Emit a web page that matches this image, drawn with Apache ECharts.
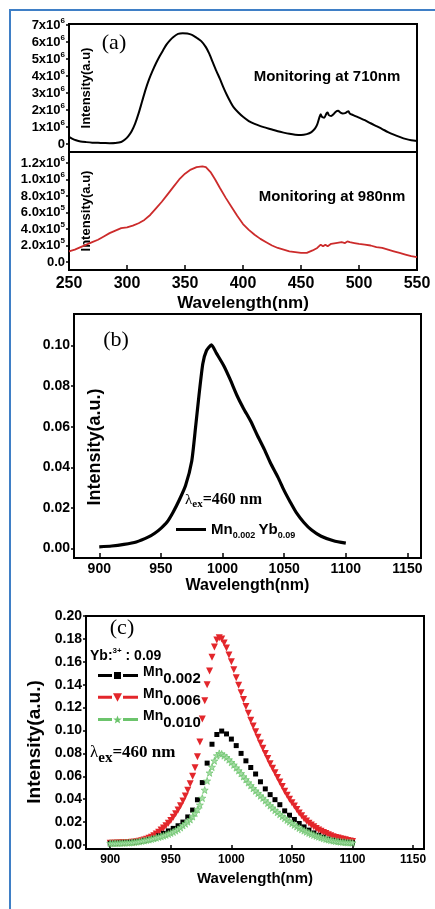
<!DOCTYPE html>
<html><head><meta charset="utf-8">
<script src="https://cdn.jsdelivr.net/npm/echarts@6/dist/echarts.min.js"></script>
<style>html,body{margin:0;padding:0;background:#fff}#c{width:435px;height:909px}</style>
</head><body><div id="c"></div>
<script>
// ---------- Panel (a), intensities in units of 10^6 ----------
const wave710 = [250,253,256,260,265,270,275,280,285,290,295,298,301,304,307,310,313,316,319,322,325,328,331,334,337,340,344,348,352,356,360,364,368,371,374,377,380,383,386,389,392,396,400,405,410,415,420,425,430,435,440,445,450,455,459,462,464,466,467,468,470,472,473,474,476,478,480,482,484,486,488,490,491,492,495,500,505,510,515,520,525,530,535,540,545,550];
const int710  = [0.42,0.30,0.22,0.15,0.11,0.08,0.07,0.06,0.05,0.06,0.12,0.25,0.45,0.75,1.2,1.8,2.5,3.2,3.8,4.3,4.75,5.15,5.5,5.85,6.1,6.3,6.48,6.52,6.5,6.42,6.25,6.05,5.7,5.3,4.8,4.3,3.85,3.35,2.9,2.5,2.15,1.85,1.6,1.35,1.18,1.05,0.95,0.85,0.75,0.67,0.6,0.55,0.53,0.58,0.7,0.9,1.15,1.6,1.75,1.6,1.55,1.8,1.85,1.7,1.65,1.75,1.9,1.95,1.85,1.8,1.82,1.9,1.92,1.8,1.7,1.55,1.4,1.22,1.05,0.88,0.7,0.55,0.42,0.3,0.22,0.18];
const wave980 = [250,255,260,265,270,275,280,285,290,295,300,305,310,315,320,325,330,335,340,345,350,355,360,365,368,372,376,380,385,390,395,400,405,410,415,420,425,430,435,440,445,450,455,460,464,467,469,471,473,476,480,485,488,490,492,496,500,505,510,515,520,525,530,535,540,545,550];
const int980  = [0.13,0.15,0.18,0.21,0.24,0.27,0.31,0.35,0.38,0.41,0.42,0.44,0.47,0.51,0.57,0.65,0.73,0.82,0.91,1.0,1.07,1.12,1.15,1.16,1.15,1.09,1.0,0.9,0.78,0.67,0.56,0.46,0.39,0.33,0.28,0.24,0.2,0.17,0.15,0.13,0.12,0.11,0.11,0.14,0.17,0.21,0.19,0.21,0.19,0.22,0.23,0.24,0.23,0.25,0.24,0.23,0.22,0.21,0.2,0.18,0.17,0.15,0.13,0.11,0.09,0.07,0.06];
const xTicksA = [250,300,350,400,450,500,550];
const yTicks710 = [0,1,2,3,4,5,6,7];
const yLabels710 = ['0','1x10^6','2x10^6','3x10^6','4x10^6','5x10^6','6x10^6','7x10^6'];
const yTicks980 = [0,0.2,0.4,0.6,0.8,1.0,1.2];
const yLabels980 = ['0.0','2.0x10^5','4.0x10^5','6.0x10^5','8.0x10^5','1.0x10^6','1.2x10^6'];

// ---------- Panel (b) ----------
const waveB = [900,910,920,930,940,945,950,955,960,965,970,975,978,981,984,987,991,995,1001,1006,1012,1017,1023,1028,1034,1039,1045,1050,1055,1060,1066,1072,1080,1090,1100];
const intB  = [0.0008,0.0012,0.002,0.0032,0.0057,0.0075,0.0099,0.013,0.018,0.024,0.031,0.043,0.059,0.076,0.091,0.0975,0.1003,0.0962,0.090,0.0835,0.075,0.069,0.0625,0.056,0.0487,0.042,0.035,0.0285,0.0228,0.0175,0.0128,0.0092,0.006,0.0038,0.0026];
const xTicksBC = [900,950,1000,1050,1100,1150];
const yTicksB = [0,0.02,0.04,0.06,0.08,0.10];

// ---------- Panel (c) ----------
const waveC2 = [900,902,904,906,908,910,912,914,916,918,
920,922,924,926,928,930,932,934,936,938,
940,942,944,946,948,950,952,954,956,958,
960,962,964,966,968,970,972,974,976,978,
980,982,984,986,988,990,992,994,996,998,
1000,1002,1004,1006,1008,1010,1012,1014,1016,1018,
1020,1022,1024,1026,1028,1030,1032,1034,1036,1038,
1040,1042,1044,1046,1048,1050,1052,1054,1056,1058,
1060,1062,1064,1066,1068,1070,1072,1074,1076,1078,
1080,1082,1084,1086,1088,1090,1092,1094,1096,1098,
1100];
const waveC4 = [900,904,908,912,916,920,924,928,932,936,
940,944,948,952,956,960,964,968,972,976,
980,984,988,992,996,1000,1004,1008,1012,1016,
1020,1024,1028,1032,1036,1040,1044,1048,1052,1056,
1060,1064,1068,1072,1076,1080,1084,1088,1092,1096,
1100];
const intMn006 = [0.0015,0.0015,0.0016,0.0017,0.0018,0.0019,0.0020,0.0021,0.0022,0.0023,
0.0025,0.0028,0.0032,0.0037,0.0043,0.0050,0.0058,0.0068,0.0080,0.0095,
0.0112,0.0130,0.0148,0.0168,0.0190,0.0215,0.0242,0.0272,0.0305,0.0342,
0.0385,0.0428,0.0478,0.0535,0.0600,0.0675,0.0770,0.0900,0.1100,0.1260,
0.1400,0.1520,0.1640,0.1730,0.1790,0.1810,0.1800,0.1765,0.1720,0.1660,
0.1600,0.1530,0.1460,0.1395,0.1330,0.1270,0.1210,0.1150,0.1090,0.1040,
0.0990,0.0940,0.0890,0.0845,0.0800,0.0755,0.0710,0.0670,0.0630,0.0590,
0.0550,0.0510,0.0470,0.0435,0.0400,0.0370,0.0340,0.0310,0.0280,0.0255,
0.0230,0.0210,0.0190,0.0175,0.0160,0.0145,0.0130,0.0120,0.0110,0.0100,
0.0090,0.0080,0.0072,0.0065,0.0060,0.0055,0.0050,0.0045,0.0040,0.0035,
0.0030];
const intMn010 = [0.0015,0.0015,0.0016,0.0016,0.0017,0.0018,0.0019,0.0020,0.0021,0.0023,
0.0025,0.0028,0.0031,0.0035,0.0039,0.0043,0.0047,0.0052,0.0057,0.0063,
0.0069,0.0075,0.0081,0.0088,0.0096,0.0105,0.0114,0.0125,0.0137,0.0152,
0.0170,0.0185,0.0203,0.0222,0.0248,0.0278,0.0310,0.0350,0.0410,0.0480,
0.0560,0.0630,0.0680,0.0735,0.0780,0.0800,0.0795,0.0780,0.0765,0.0745,
0.0722,0.0700,0.0675,0.0650,0.0625,0.0598,0.0572,0.0545,0.0520,0.0495,
0.0473,0.0452,0.0430,0.0410,0.0388,0.0366,0.0344,0.0324,0.0304,0.0286,
0.0268,0.0250,0.0234,0.0218,0.0203,0.0189,0.0175,0.0161,0.0148,0.0136,
0.0125,0.0115,0.0105,0.0096,0.0087,0.0079,0.0072,0.0065,0.0058,0.0052,
0.0047,0.0042,0.0038,0.0034,0.0031,0.0028,0.0026,0.0024,0.0022,0.0021,
0.0020];
const intMn002 = [0.0015,0.0016,0.0018,0.0020,0.0023,0.0026,0.0030,0.0038,0.0047,0.0058,
0.0080,0.0102,0.0123,0.0145,0.0168,0.0200,0.0245,0.0305,0.0395,0.0545,
0.0715,0.0880,0.0965,0.0995,0.0970,0.0925,0.0868,0.0800,0.0735,0.0677,
0.0620,0.0552,0.0490,0.0440,0.0396,0.0352,0.0298,0.0260,0.0223,0.0188,
0.0158,0.0130,0.0105,0.0085,0.0068,0.0050,0.0040,0.0032,0.0027,0.0023,
0.0020];
const yTicksC = [0,0.02,0.04,0.06,0.08,0.10,0.12,0.14,0.16,0.18,0.20];

// ---------- helpers ----------
const SANS = '"Liberation Sans", Arial, sans-serif';
const SERIF = '"Liberation Serif", "Times New Roman", serif';
const zip = (xs, ys) => xs.map((x, i) => [x, ys[i]]);
const sciRich = (s) => { const m = s.match(/^(.*)\^(.*)$/); return m ? '{m|' + m[1] + '}{s|' + m[2] + '}' : '{m|' + s + '}'; };
const lookup = (ticks, labels) => (v) => { const i = ticks.findIndex(t => Math.abs(t - v) < 1e-9); return i < 0 ? '' : sciRich(labels[i]); };
const plain = (v) => String(v);
const sciRichStyle = { m: { fontSize: 13, fontWeight: 'bold', fontFamily: SANS, color: '#000', lineHeight: 17 },
                       s: { fontSize: 8, fontWeight: 'bold', fontFamily: SANS, color: '#000', verticalAlign: 'top' } };
const blackLine = { color: '#000', width: 2 };
const starPath = 'path://M0,-10L2.35,-3.24L9.51,-3.09L3.8,1.24L5.88,8.09L0,4L-5.88,8.09L-3.8,1.24L-9.51,-3.09L-2.35,-3.24Z';

const grids = [
  { left: 69, top: 24, width: 348, height: 128 },
  { left: 69, top: 152, width: 348, height: 118 },
  { left: 74, top: 314, width: 347, height: 244 },
  { left: 86, top: 616, width: 338, height: 233 }
].map(g => Object.assign({ show: true, borderColor: '#000', borderWidth: 2, containLabel: false }, g));

function xAx(grid, min, max, ticks, opts) {
  return Object.assign({
    type: 'value', gridIndex: grid, min: min, max: max,
    axisLine: { show: true, onZero: false, lineStyle: blackLine },
    splitLine: { show: false },
    axisTick: { show: true, inside: true, length: 5, customValues: ticks, lineStyle: { color: '#000', width: 1.5 } },
    axisLabel: { show: true, customValues: ticks, color: '#000', fontFamily: SANS, fontWeight: 'bold', formatter: plain },
    nameLocation: 'middle'
  }, opts);
}
function yAx(grid, min, max, ticks, opts) {
  return Object.assign({
    type: 'value', gridIndex: grid, min: min, max: max,
    axisLine: { show: true, onZero: false, lineStyle: blackLine },
    splitLine: { show: false },
    axisTick: { show: true, inside: false, length: 3, customValues: ticks, lineStyle: { color: '#000', width: 1.5 } },
    axisLabel: { show: true, customValues: ticks, color: '#000', fontFamily: SANS, fontWeight: 'bold' },
    nameLocation: 'middle', nameRotate: 90
  }, opts);
}

const option = {
  animation: false,
  backgroundColor: '#fff',
  grid: grids,
  xAxis: [
    xAx(0, 250, 550, xTicksA, { axisTick: { show: false }, axisLabel: { show: false } }),
    xAx(1, 250, 550, xTicksA, {
      axisLabel: { customValues: xTicksA, fontSize: 16, margin: 6, color: '#000', fontFamily: SANS, fontWeight: 'bold', formatter: plain },
      name: 'Wavelength(nm)', nameGap: 25,
      nameTextStyle: { fontSize: 17, fontWeight: 'bold', fontFamily: SANS, color: '#000' }
    }),
    xAx(2, 879.5, 1161, xTicksBC, {
      axisLabel: { customValues: xTicksBC, fontSize: 14, margin: 4, color: '#000', fontFamily: SANS, fontWeight: 'bold', formatter: plain },
      name: 'Wavelength(nm)', nameGap: 20,
      nameTextStyle: { fontSize: 16, fontWeight: 'bold', fontFamily: SANS, color: '#000' }
    }),
    xAx(3, 880, 1159, xTicksBC, {
      axisTick: { show: true, inside: true, length: 4, customValues: xTicksBC, lineStyle: { color: '#000', width: 1.5 } },
      axisLabel: { customValues: xTicksBC, fontSize: 12, margin: 5, color: '#000', fontFamily: SANS, fontWeight: 'bold', formatter: plain },
      name: 'Wavelength(nm)', nameGap: 22,
      nameTextStyle: { fontSize: 15, fontWeight: 'bold', fontFamily: SANS, color: '#000' }
    })
  ],
  yAxis: [
    yAx(0, -0.4707, 7.06, yTicks710, {
      axisLabel: { customValues: yTicks710, margin: 4, formatter: lookup(yTicks710, yLabels710), rich: sciRichStyle },
      name: 'Intensity(a.u)', nameGap: -24,
      nameTextStyle: { fontSize: 13, fontWeight: 'bold', fontFamily: SANS, color: '#000' }
    }),
    yAx(1, -0.097, 1.333, yTicks980, {
      axisLabel: { customValues: yTicks980, margin: 4, formatter: lookup(yTicks980, yLabels980), rich: sciRichStyle },
      name: 'Intensity(a.u)', nameGap: -24,
      nameTextStyle: { fontSize: 13, fontWeight: 'bold', fontFamily: SANS, color: '#000' }
    }),
    yAx(2, -0.0047, 0.1155, yTicksB, {
      axisLabel: { customValues: yTicksB, margin: 4, fontSize: 14, color: '#000', fontFamily: SANS, fontWeight: 'bold', formatter: v => v.toFixed(2) },
      name: 'Intensity(a.u.)', nameGap: -30,
      nameTextStyle: { fontSize: 18, fontWeight: 'bold', fontFamily: SANS, color: '#000', padding: [0, 22, 0, 0] }
    }),
    yAx(3, -0.0035, 0.2, yTicksC, {
      axisLabel: { customValues: yTicksC, margin: 4, fontSize: 14, color: '#000', fontFamily: SANS, fontWeight: 'bold', formatter: v => v.toFixed(2) },
      name: 'Intensity(a.u.)', nameGap: 38,
      nameTextStyle: { fontSize: 19, fontWeight: 'bold', fontFamily: SANS, color: '#000', padding: [0, 19, 0, 0] }
    })
  ],
  legend: [
    {
      selectedMode: false, left: 171, top: 517, itemWidth: 30, itemHeight: 3,
      data: [{ name: 'Mn0.002 Yb0.09', icon: 'path://M0,0H30V3H0Z' }],
      formatter: n => n.replace(/([A-Za-z]+)([\d.]+)/g, '{m|$1}{s|$2}'),
      textStyle: { color: '#000', rich: {
        m: { fontSize: 15, fontWeight: 'bold', fontFamily: SANS, color: '#000', lineHeight: 22 },
        s: { fontSize: 9, fontWeight: 'bold', fontFamily: SANS, color: '#000', verticalAlign: 'bottom' } } }
    },
    {
      selectedMode: false, orient: 'vertical', left: 93, top: 660, itemWidth: 40, itemHeight: 10, itemGap: 1,
      data: [
        { name: 'Mn0.002', icon: 'path://M0,3.5H14V6.5H0Z M16,1.5H23V8.5H16Z M25,3.5H40V6.5H25Z', itemStyle: { borderWidth: 0 } },
        { name: 'Mn0.006', icon: 'path://M0,3.5H14V6.5H0Z M15,1H24L19.5,9.5Z M25,3.5H40V6.5H25Z', itemStyle: { borderWidth: 0 } },
        { name: 'Mn0.010', icon: 'path://M0,3.5H14V6.5H0Z M19.5,1L20.6,4L23.8,4.1L21.3,6L22.2,9.2L19.5,7.4L16.8,9.2L17.7,6L15.2,4.1L18.4,4Z M25,3.5H40V6.5H25Z', itemStyle: { color: '#6cc46c', borderWidth: 0 } }
      ],
      formatter: n => n.replace(/([A-Za-z]+)([\d.]+)/, '{m|$1}{s|$2}'),
      textStyle: { color: '#000', rich: {
        m: { fontSize: 14, fontWeight: 'bold', fontFamily: SANS, color: '#000', verticalAlign: 'top' },
        s: { fontSize: 15, fontWeight: 'bold', fontFamily: SANS, color: '#000', verticalAlign: 'bottom', padding: [6, 0, 0, 0] } } }
    }
  ],
  series: [
    { type: 'line', name: 'Monitoring at 710nm', xAxisIndex: 0, yAxisIndex: 0, data: zip(wave710, int710),
      showSymbol: false, smooth: 0.25, lineStyle: { color: '#000', width: 2 }, itemStyle: { color: '#000' }, silent: true },
    { type: 'line', name: 'Monitoring at 980nm', xAxisIndex: 1, yAxisIndex: 1, data: zip(wave980, int980),
      showSymbol: false, lineStyle: { color: '#cc2b2b', width: 1.8 }, itemStyle: { color: '#cc2b2b' }, silent: true },
    { type: 'line', name: 'Mn0.002 Yb0.09', xAxisIndex: 2, yAxisIndex: 2, data: zip(waveB, intB),
      showSymbol: false, smooth: 0.2, lineStyle: { color: '#000', width: 3.2 }, itemStyle: { color: '#000' }, silent: true },
    { type: 'scatter', name: 'Mn0.006', xAxisIndex: 3, yAxisIndex: 3, data: zip(waveC2, intMn006),
      symbol: 'triangle', symbolRotate: 180, symbolSize: 7, itemStyle: { color: '#e3262b', opacity: 1 }, silent: true },
    { type: 'scatter', name: 'Mn0.002', xAxisIndex: 3, yAxisIndex: 3, data: zip(waveC4, intMn002),
      symbol: 'rect', symbolSize: 5, itemStyle: { color: '#000', opacity: 1 }, silent: true },
    { type: 'scatter', name: 'Mn0.010', xAxisIndex: 3, yAxisIndex: 3, data: zip(waveC2, intMn010),
      symbol: starPath, symbolSize: 7, itemStyle: { color: '#a6dca6', borderColor: '#6cc46c', borderWidth: 0.7, opacity: 1 }, silent: true }
  ],
  graphic: [
    { type: 'rect', silent: true, shape: { x: 10, y: 10, width: 440, height: 920 }, style: { fill: 'none', stroke: '#3f7fc6', lineWidth: 2 } },
    { type: 'text', x: 114, y: 43, style: { text: '(a)', font: '22px ' + SERIF, fill: '#000', align: 'center', verticalAlign: 'middle' } },
    { type: 'text', x: 327, y: 77, style: { text: 'Monitoring at 710nm', font: 'bold 15px ' + SANS, fill: '#000', align: 'center', verticalAlign: 'middle' } },
    { type: 'text', x: 332, y: 197, style: { text: 'Monitoring at 980nm', font: 'bold 15px ' + SANS, fill: '#000', align: 'center', verticalAlign: 'middle' } },
    { type: 'text', x: 116, y: 340, style: { text: '(b)', font: '22px ' + SERIF, fill: '#000', align: 'center', verticalAlign: 'middle' } },
    { type: 'text', x: 185, y: 500, style: { text: '{l|λ}{e|ex}{t|=460 nm}', fill: '#000', align: 'left', verticalAlign: 'middle',
        rich: { l: { fontSize: 15, fontFamily: SERIF, fill: '#000' },
                e: { fontSize: 11, fontWeight: 'bold', fontFamily: SERIF, fill: '#000', verticalAlign: 'bottom' },
                t: { fontSize: 16, fontWeight: 'bold', fontFamily: SERIF, fill: '#000', lineHeight: 20 } } } },
    { type: 'text', x: 122, y: 628, style: { text: '(c)', font: '22px ' + SERIF, fill: '#000', align: 'center', verticalAlign: 'middle' } },
    { type: 'text', x: 90, y: 656, style: { text: '{m|Yb:}{s|3+}{m| : 0.09}', fill: '#000', align: 'left', verticalAlign: 'middle',
        rich: { m: { fontSize: 14, fontWeight: 'bold', fontFamily: SANS, fill: '#000', lineHeight: 18 },
                s: { fontSize: 8, fontWeight: 'bold', fontFamily: SANS, fill: '#000', verticalAlign: 'top' } } } },
    { type: 'text', x: 90, y: 753, style: { text: '{l|λ}{e|ex}{t|=460 nm}', fill: '#000', align: 'left', verticalAlign: 'middle',
        rich: { l: { fontSize: 17, fontFamily: SERIF, fill: '#000' },
                e: { fontSize: 15, fontWeight: 'bold', fontFamily: SERIF, fill: '#000', verticalAlign: 'bottom' },
                t: { fontSize: 17, fontWeight: 'bold', fontFamily: SERIF, fill: '#000', lineHeight: 26 } } } }
  ]
};
const chart = echarts.init(document.getElementById('c'), null, { renderer: 'canvas' });
chart.setOption(option);
</script></body></html>
